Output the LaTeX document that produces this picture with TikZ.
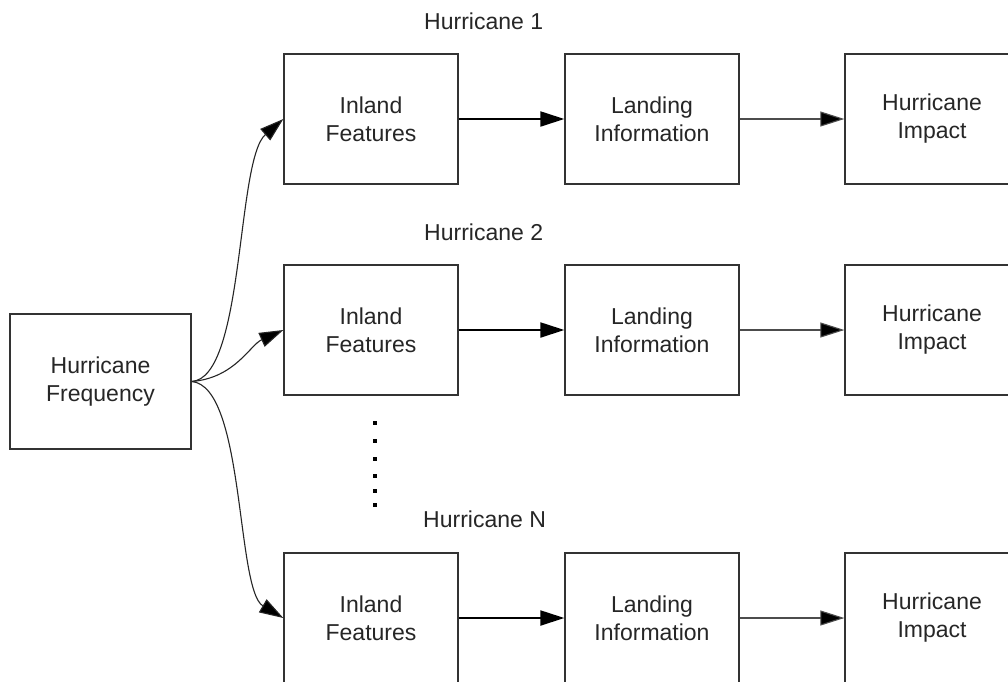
\documentclass[tikz,border=0pt]{standalone}
\usepackage{fontspec}
\setmainfont{Liberation Sans}
\usetikzlibrary{arrows.meta}
\begin{document}
\begin{tikzpicture}[x=1pt,y=-1pt,
  box/.style={draw=black!80, line width=1.3pt, minimum width=174pt, minimum height=130pt, inner sep=0pt, align=center, text=black!85, font=\fontsize{23}{28}\selectfont},
  lbl/.style={anchor=base west, inner sep=0pt, text=black!85, font=\fontsize{23}{28}\selectfont},
  tip/.style={-{Triangle[length=24pt,width=15pt,fill=black]}},
  thick arrow/.style={tip, line width=2pt, draw=black},
  thin arrow/.style={tip, line width=1.1pt, draw=black!70},
  curve/.style={tip, line width=1.1pt, draw=black!85}]
\clip (0,0) rectangle (1008,681);
\fill[white] (0,0) rectangle (1008,681);
\node[box, minimum width=181pt, minimum height=135pt] (freq) at (100.5,381.5) {Hurricane\\Frequency};
\node[box] (in1) at (371,119) {Inland\\Features};
\node[box] (ld1) at (652,119) {Landing\\Information};
\node[box] (im1) at (932,119) {Hurricane\\Impact};
\node[box] (in2) at (371,330) {Inland\\Features};
\node[box] (ld2) at (652,330) {Landing\\Information};
\node[box] (im2) at (932,330) {Hurricane\\Impact};
\node[box] (in3) at (371,618) {Inland\\Features};
\node[box] (ld3) at (652,618) {Landing\\Information};
\node[box] (im3) at (932,618) {Hurricane\\Impact};
\node[lbl] (h1) at (424,29) {Hurricane 1};
\node[lbl] (h2) at (424,240) {Hurricane 2};
\node[lbl] (hn) at (423,527) {Hurricane N};
\foreach \r in {1,2,3}{
  \draw[thick arrow] (in\r.east) -- (ld\r.west);
  \draw[thin arrow] (ld\r.east) -- (im\r.west);
}
\draw[curve] (freq.east) .. controls (245,378) and (236,160) .. (in1.west);
\draw[curve] (freq.east) .. controls (235,378) and (250,345) .. (in2.west);
\draw[curve] (freq.east) .. controls (245,386) and (236,590) .. (in3.west);
\foreach \y in {423,441,459,476,491,505}{
  \fill[black] (373,\y-2) rectangle (377,\y+2);
}
\end{tikzpicture}
\end{document}
